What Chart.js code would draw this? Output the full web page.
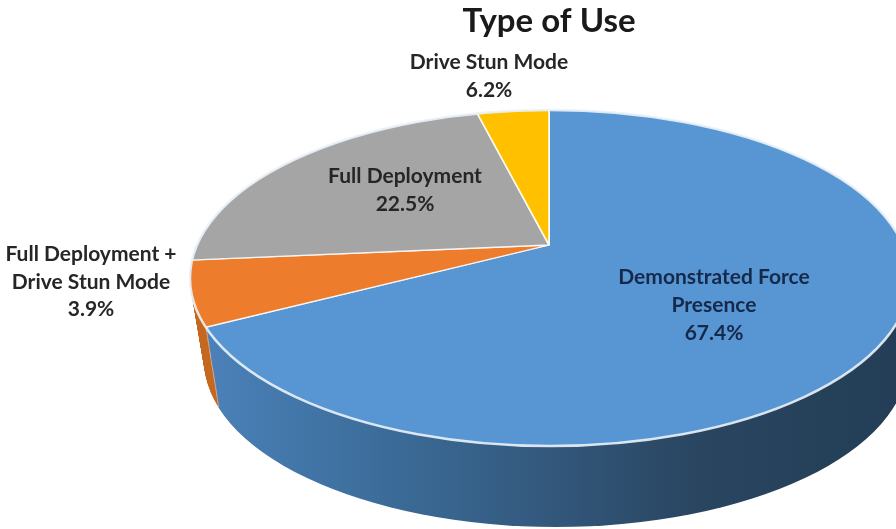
<!DOCTYPE html>
<html>
<head>
<meta charset="utf-8">
<title>Type of Use</title>
<script src="https://cdn.jsdelivr.net/npm/chart.js@4"></script>
<style>
    html, body { margin: 0; padding: 0; background: #fff; }
    canvas { display: block; }
</style>
</head>
<body>
<canvas id="useChart" width="896" height="529"></canvas>
<script>
// Chart data
const categories = ['Demonstrated Force Presence', 'Full Deployment + Drive Stun Mode', 'Full Deployment', 'Drive Stun Mode'];
const values = [67.4, 3.9, 22.5, 6.2];
const labelLines = [
    ['Demonstrated Force', 'Presence'],
    ['Full Deployment +', 'Drive Stun Mode'],
    ['Full Deployment'],
    ['Drive Stun Mode']
];

const sliceColors = ['#5796d3', '#ed7d2c', '#a5a5a5', '#ffc000'];

// Where each label block sits (centre x, y of first line)
const labelSpots = [
    { x: 714, y: 277.5, color: '#15294a' },
    { x: 91, y: 254, color: '#262626' },
    { x: 405, y: 176, color: '#262626' },
    { x: 489, y: 62, color: '#262626' }
];
const lineGap = 27.8;

// Fake 3D: the slices all meet at this point, and the top face is sheared
// so the rays land where they do in a tilted pie
const vertex = { x: 549, y: 245 };
const tilt = { a: 1.8, b: 0.223, d: 1.264 };
const topRim = { x: 550, y: 278, rx: 360, ry: 168 };
const bottomRim = { x: 556, y: 360, rx: 352, ry: 167 };
const wallShift = { x: 6, y: 82 };
const wallSteps = 82;

function applyTilt(ctx, arc, t) {
    ctx.translate(vertex.x + wallShift.x * t, vertex.y + wallShift.y * t);
    ctx.transform(tilt.a, tilt.b, 0, tilt.d, 0, 0);
    ctx.translate(-arc.x, -arc.y);
}

function rimPath(ctx, t) {
    ctx.beginPath();
    ctx.ellipse(
        topRim.x + (bottomRim.x - topRim.x) * t,
        topRim.y + (bottomRim.y - topRim.y) * t,
        topRim.rx + (bottomRim.rx - topRim.rx) * t,
        topRim.ry + (bottomRim.ry - topRim.ry) * t,
        0, 0, Math.PI * 2
    );
}

// Side wall of the blue slice, dark towards the right
function wallGradient(ctx, arc, t) {
    const toLocal = sx => arc.x + (sx - vertex.x - wallShift.x * t) / tilt.a;
    const g = ctx.createLinearGradient(toLocal(200), 0, toLocal(896), 0);
    g.addColorStop(0, '#4b82ba');
    g.addColorStop(0.29, '#3a6a96');
    g.addColorStop(0.5, '#33587c');
    g.addColorStop(0.72, '#294560');
    g.addColorStop(1, '#233e56');
    return g;
}

const pie3d = {
    id: 'pie3d',
    beforeDatasetsDraw(chart) {
        const ctx = chart.ctx;
        const arcs = chart.getDatasetMeta(0).data;

        // Draw the wall back to front, one thin layer at a time
        for (let i = wallSteps; i > 0; i--) {
            const t = i / wallSteps;
            ctx.save();
            rimPath(ctx, t);
            ctx.clip();
            applyTilt(ctx, arcs[0], t);
            [0, 1].forEach(idx => {
                const arc = arcs[idx];
                const saved = arc.options;
                const wall = Object.create(saved);
                wall.backgroundColor = idx === 0 ? wallGradient(ctx, arc, t) : '#c56a22';
                wall.borderColor = '#f3b98a';
                arc.options = wall;
                arc.draw(ctx);
                arc.options = saved;
            });
            ctx.restore();
        }

        // Chart.js then draws the top face inside this clip
        ctx.save();
        rimPath(ctx, 0);
        ctx.clip();
        applyTilt(ctx, arcs[0], 0);
    },
    afterDatasetsDraw(chart) {
        const ctx = chart.ctx;
        ctx.restore();

        ctx.save();
        rimPath(ctx, 0);
        ctx.lineWidth = 2.5;
        ctx.strokeStyle = 'rgba(235,242,250,0.9)';
        ctx.stroke();
        ctx.restore();

        // Slice labels
        ctx.save();
        ctx.font = 'bold 21px Lato';
        ctx.textAlign = 'center';
        ctx.textBaseline = 'middle';
        categories.forEach((_, i) => {
            const spot = labelSpots[i];
            const lines = labelLines[i].concat(values[i].toFixed(1) + '%');
            ctx.fillStyle = spot.color;
            lines.forEach((line, n) => ctx.fillText(line, spot.x, spot.y + n * lineGap));
        });
        ctx.restore();
    }
};

new Chart(document.getElementById('useChart').getContext('2d'), {
    type: 'pie',
    data: {
        labels: categories,
        datasets: [{
            data: values,
            backgroundColor: sliceColors,
            borderColor: 'rgba(255,255,255,0.85)',
            borderWidth: 1,
            clip: false
        }]
    },
    options: {
        responsive: false,
        animation: false,
        layout: { padding: { left: 202 } },
        plugins: {
            legend: { display: false },
            tooltip: { enabled: false },
            title: {
                display: true,
                text: 'Type of Use',
                color: '#1a1a1a',
                font: { family: 'Lato', size: 33, weight: 'bold' },
                padding: { top: 2, bottom: 0 }
            }
        }
    },
    plugins: [pie3d]
});
</script>
</body>
</html>
